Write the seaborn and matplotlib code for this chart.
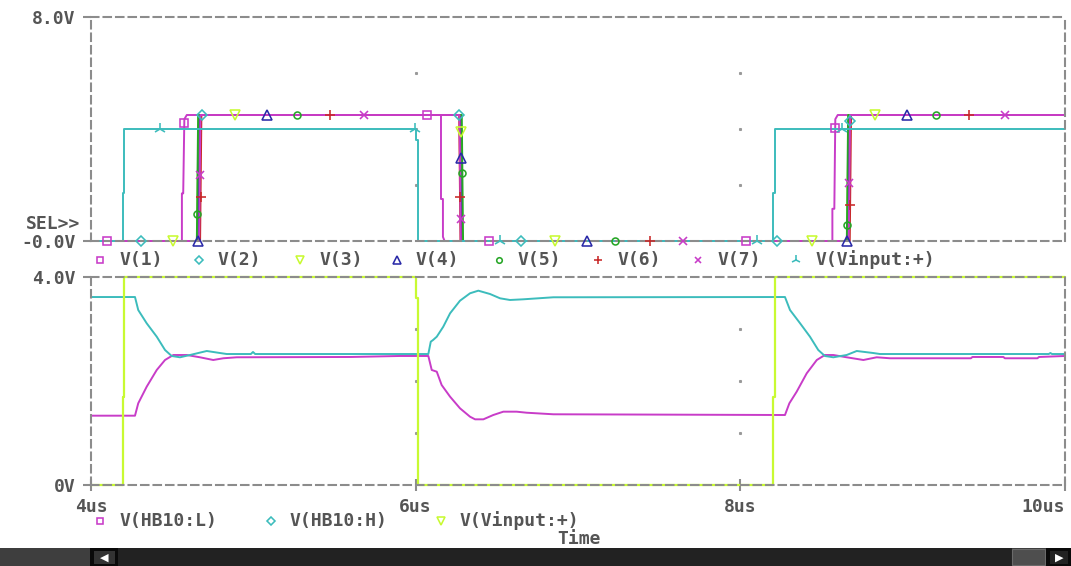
import numpy as np
import matplotlib
matplotlib.use("Agg")
import matplotlib.pyplot as plt
from matplotlib.lines import Line2D
from matplotlib.patches import Rectangle
import seaborn as sns

# ---------------------------------------------------------------- data (us, V)
HIGH = 4.5          # logic-high level of the buffer outputs
EDGE = 0.008        # edge duration of the output transitions

# V(1): first stage output
t_v1 = [4.0, 4.560, 4.560, 4.568, 4.575, 4.590, 6.156, 6.156, 6.168, 6.168, 6.178,
        8.567, 8.567, 8.579, 8.585, 8.600, 10.0]
v_v1 = [0.0, 0.0, 1.7, 1.7, 4.35, 4.5, 4.5, 1.5, 1.5, 0.15, 0.0,
        0.0, 1.15, 1.15, 4.35, 4.5, 4.5]

# V(2)..V(7): later stages, switching edges (start times)
out_names = ["V(2)", "V(3)", "V(4)", "V(5)", "V(6)", "V(7)"]
rise1_us = [4.664, 4.654, 4.662, 4.652, 4.672, 4.666]
fall_us = [6.276, 6.278, 6.274, 6.284, 6.268, 6.270]
rise2_us = [8.666, 8.658, 8.664, 8.656, 8.674, 8.668]

# input stimulus
t_vin = [4.0, 4.195, 4.195, 4.205, 4.205, 6.002, 6.002, 6.014, 6.014,
         8.203, 8.203, 8.215, 8.215, 10.0]
v_vin = [0.0, 0.0, 1.7, 1.7, 4.0, 4.0, 3.6, 3.6, 0.0,
         0.0, 1.7, 1.7, 4.0, 4.0]

# half-bridge node voltages
t_hb_h = [4.0, 4.271, 4.291, 4.343, 4.405, 4.456, 4.497, 4.548, 4.610, 4.713, 4.795,
          4.836, 4.985, 4.998, 5.011,
          6.078, 6.093, 6.107, 6.130, 6.170, 6.212, 6.273, 6.335, 6.386, 6.458, 6.520,
          6.581, 6.663, 6.848,
          8.275, 8.306, 8.368, 8.429, 8.480, 8.521, 8.573, 8.655, 8.717, 8.819, 8.860,
          9.900, 9.910, 9.920, 10.0]
v_hb_h = [3.615, 3.615, 3.365, 3.110, 2.852, 2.596, 2.481, 2.456, 2.500, 2.577, 2.538,
          2.519, 2.519, 2.558, 2.519,
          2.519, 2.756, 2.788, 2.852, 3.044, 3.302, 3.544, 3.687, 3.737, 3.673, 3.590,
          3.558, 3.571, 3.610,
          3.615, 3.365, 3.110, 2.852, 2.596, 2.481, 2.456, 2.500, 2.577, 2.538, 2.519,
          2.519, 2.538, 2.519, 2.519]
t_hb_l = [4.0, 4.271, 4.291, 4.343, 4.405, 4.456, 4.507, 4.590, 4.671, 4.753, 4.815,
          4.898, 5.600, 5.900,
          6.078, 6.099, 6.130, 6.160, 6.212, 6.273, 6.335, 6.366, 6.417, 6.478, 6.540,
          6.622, 6.684, 6.848,
          8.275, 8.302, 8.347, 8.409, 8.471, 8.521, 8.573, 8.655, 8.758, 8.840, 8.922,
          9.420, 9.430, 9.620, 9.630, 9.830, 9.840, 10.0]
v_hb_l = [1.333, 1.333, 1.571, 1.890, 2.212, 2.404, 2.500, 2.500, 2.456, 2.404, 2.437,
          2.456, 2.462, 2.481,
          2.481, 2.212, 2.179, 1.923, 1.698, 1.475, 1.313, 1.263, 1.263, 1.346, 1.410,
          1.410, 1.390, 1.360,
          1.346, 1.571, 1.794, 2.148, 2.404, 2.500, 2.500, 2.456, 2.404, 2.456, 2.437,
          2.437, 2.462, 2.462, 2.437, 2.437, 2.462, 2.481]

# symbol positions along each trace (times, us)
mark_v1 = [4.099, 4.5746, 6.070, 6.452, 8.035, 8.5844]
mark_out = [
    [4.308, 4.684, 6.270, 6.649, 8.226, 8.6736],      # V(2)
    [4.505, 4.887, 6.2791, 6.858, 8.442, 8.830],      # V(3)
    [4.659, 5.084, 6.2767, 7.056, 8.660, 9.027],      # V(4)
    [4.6537, 5.269, 6.2877, 7.228, 8.657, 9.205],     # V(5)
    [4.6748, 5.472, 6.2732, 7.444, 8.6763, 9.409],    # V(6)
    [4.6702, 5.682, 6.2766, 7.647, 8.6717, 9.630],    # V(7)
]
mark_vin = [4.425, 5.996, 6.520, 8.103, 8.624]

top_labels = ["V(1)", "V(2)", "V(3)", "V(4)", "V(5)", "V(6)", "V(7)", "V(Vinput:+)"]
bot_labels = ["V(HB10:L)", "V(HB10:H)", "V(Vinput:+)"]
x_ticks = [4, 6, 8, 10]
x_ticklabels = ["4us", "6us", "8us", "10us"]

# ---------------------------------------------------------------- styling
MAG, CYAN, LIME = "#c83cc8", "#3cbcbc", "#c8fa32"
BLUE, GREEN, RED = "#2a2aa8", "#26a626", "#c82828"
top_colors = [MAG, CYAN, LIME, BLUE, GREEN, RED, MAG, CYAN]
top_markers = ["s", "D", "v", "^", "o", "+", "x", "2"]
top_msize = [6.0, 4.6, 6.5, 6.5, 5.0, 7.5, 6.0, 8.5]
GRAY = "#8c8c8c"
TXT = "#555555"
MEW = 1.15

sns.set_theme(style="white")
plt.rcParams["font.family"] = ["DejaVu Sans Mono", "DejaVu Sans"]
plt.rcParams["font.weight"] = "bold"

W, H = 1071, 566
fig = plt.figure(figsize=(W / 100, H / 100), dpi=100)
fig.patch.set_facecolor("white")


def fx(px):
    return px / W


def fy(py):
    return 1 - py / H


ax_top = fig.add_axes([fx(91), fy(241), fx(1065) - fx(91), fy(17) - fy(241)])
ax_bot = fig.add_axes([fx(91), fy(485), fx(1065) - fx(91), fy(277) - fy(485)])

FS = 13


def trace(ax, t, v, color, lw=1.4):
    sns.lineplot(x=t, y=v, ax=ax, color=color, lw=lw, sort=False,
                 estimator=None, legend=False)
    ax.lines[-1].set_clip_on(False)


def symbols(ax, t_marks, t, v, color, marker, ms):
    ym = np.interp(t_marks, t, v)
    ax.plot(t_marks, ym, ls="none", marker=marker, ms=ms, mfc="none",
            mec=color, mew=MEW, clip_on=False, zorder=6)


def frame(ax, ylim, yticks, yticklabels):
    ax.set_xlim(4, 10)
    ax.set_ylim(*ylim)
    ax.set_facecolor("white")
    for sp in ax.spines.values():
        sp.set_visible(True)
        sp.set_color(GRAY)
        sp.set_linewidth(1.5)
        sp.set_linestyle((0, (3.6, 2.4)))
    ax.set_yticks(yticks)
    ax.set_yticklabels(yticklabels)
    ax.tick_params(axis="y", left=True, direction="out", length=6, width=1.5,
                   color=GRAY, pad=5, labelsize=FS, labelcolor=TXT)
    for lab in ax.get_yticklabels():
        lab.set_fontweight("bold")
    ax.grid(False)


# ---------------------------------------------------------------- upper plot
frame(ax_top, (0, 8), [0, 8], ["-0.0V", "8.0V"])
ax_top.set_xticks([])
for gx in [6, 8]:
    ax_top.plot([gx] * 3, [2, 4, 6], ls="none", marker="s", ms=1.2,
                color="#999999", zorder=1)

trace(ax_top, t_v1, v_v1, MAG)
out_t, out_v = [], []
for r1, f, r2 in zip(rise1_us, fall_us, rise2_us):
    tt = [4.0, r1, r1 + EDGE, f, f + EDGE, r2, r2 + EDGE, 10.0]
    vv = [0.0, 0.0, HIGH, HIGH, 0.0, 0.0, HIGH, HIGH]
    out_t.append(tt)
    out_v.append(vv)
for i in range(6):
    trace(ax_top, out_t[i], out_v[i], top_colors[i + 1])
trace(ax_top, t_vin, v_vin, CYAN)

symbols(ax_top, mark_v1, t_v1, v_v1, MAG, "s", top_msize[0])
for i in range(6):
    symbols(ax_top, mark_out[i], out_t[i], out_v[i], top_colors[i + 1],
            top_markers[i + 1], top_msize[i + 1])
symbols(ax_top, mark_vin, t_vin, v_vin, CYAN, "2", top_msize[7])

# ---------------------------------------------------------------- lower plot
frame(ax_bot, (0, 4), [0, 4], ["0V", "4.0V"])
ax_bot.set_xticks(x_ticks)
ax_bot.set_xticklabels(x_ticklabels)
ax_bot.tick_params(axis="x", bottom=True, direction="inout", length=9, width=1.5,
                   color=GRAY, pad=5, labelsize=FS, labelcolor=TXT)
for lab in ax_bot.get_xticklabels():
    lab.set_fontweight("bold")
ax_bot.get_xticklabels()[-1].set_horizontalalignment("right")
for gx in [6, 8]:
    ax_bot.plot([gx] * 3, [1, 2, 3], ls="none", marker="s", ms=1.2,
                color="#999999", zorder=1)

trace(ax_bot, t_hb_l, v_hb_l, MAG)
trace(ax_bot, t_hb_h, v_hb_h, CYAN)
trace(ax_bot, t_vin, v_vin, LIME, lw=1.6)

# ---------------------------------------------------------------- legends / labels
fig.text(fx(80), fy(224), "SEL>>", ha="right", va="center", fontsize=FS,
         color=TXT, fontweight="bold")

top_mx = [100, 199, 300, 397, 499, 598, 698, 796]
for lab, mx, c, m, ms in zip(top_labels, top_mx, top_colors, top_markers, top_msize):
    fig.add_artist(Line2D([fx(mx)], [fy(260)], transform=fig.transFigure,
                          marker=m, ms=ms * 0.8, mfc="none", mec=c, mew=MEW, ls="none"))
    fig.text(fx(mx + 19), fy(260), lab, ha="left", va="center", fontsize=FS,
             color=TXT, fontweight="bold")

bot_mx = [100, 271, 441]
bot_colors = [MAG, CYAN, LIME]
bot_markers = ["s", "D", "v"]
bot_ms = [5.0, 4.0, 5.5]
for lab, mx, c, m, ms in zip(bot_labels, bot_mx, bot_colors, bot_markers, bot_ms):
    fig.add_artist(Line2D([fx(mx)], [fy(521)], transform=fig.transFigure,
                          marker=m, ms=ms, mfc="none", mec=c, mew=MEW, ls="none"))
    fig.text(fx(mx + 19), fy(521), lab, ha="left", va="center", fontsize=FS,
             color=TXT, fontweight="bold")

fig.text(fx(579), fy(539), "Time", ha="center", va="center", fontsize=FS,
         color=TXT, fontweight="bold")

# ---------------------------------------------------------------- scroll bar
def rect(x0, y0, x1, y1, color, ec="none", lw=0):
    fig.add_artist(Rectangle((fx(x0), fy(y1)), fx(x1) - fx(x0), fy(y0) - fy(y1),
                             transform=fig.transFigure, facecolor=color,
                             edgecolor=ec, linewidth=lw))


rect(0, 548, W, H, "#3e3e3e")
rect(90, 548, 118, H, "#0a0a0a")
rect(94, 551, 115, 564, "#333333")
rect(118, 548, 1012, H, "#222222")
rect(1012, 549, 1045, H - 1, "#4e4e4e", ec="#6a6a6a", lw=0.8)
rect(1046, 548, W, H, "#0a0a0a")
rect(1050, 551, 1068, 564, "#222222")
fig.text(fx(104), fy(557.5), "\u25c0", ha="center", va="center", fontsize=8,
         color="white", family="DejaVu Sans")
fig.text(fx(1059), fy(557.5), "\u25b6", ha="center", va="center", fontsize=8,
         color="white", family="DejaVu Sans")

fig.savefig("out.png", dpi=100, facecolor="white")
